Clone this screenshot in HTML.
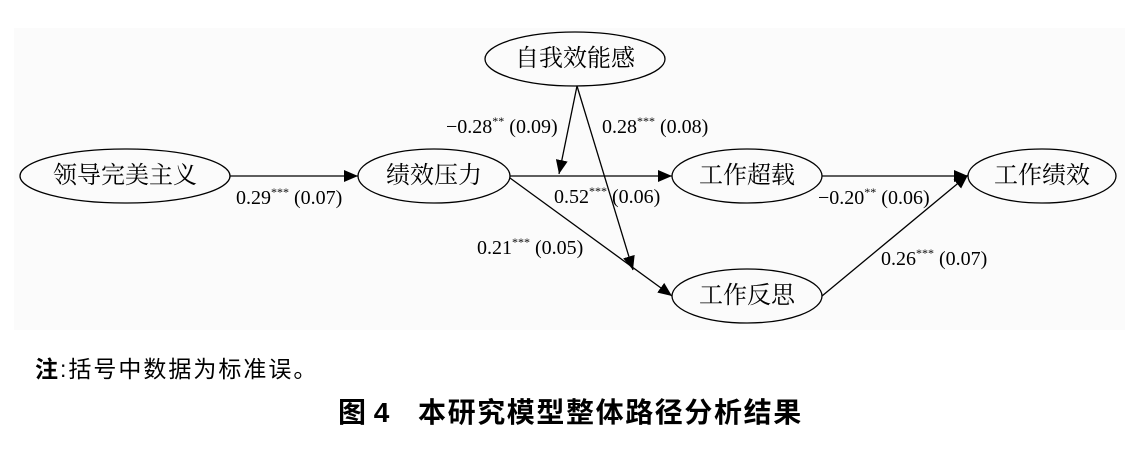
<!DOCTYPE html>
<html><head><meta charset="utf-8"><style>
html,body{margin:0;padding:0;background:#fff;width:1125px;height:454px;overflow:hidden}
svg text{font-family:"Liberation Serif","Noto Serif CJK SC",serif}
.n{font-family:"Liberation Sans","Noto Sans CJK SC",sans-serif;font-size:24px}
.l{font-size:20px}
</style></head><body>
<svg width="1125" height="454" viewBox="0 0 1125 454" xmlns="http://www.w3.org/2000/svg">
<defs><marker id="a" viewBox="0 0 14 12" refX="14" refY="6" markerWidth="14" markerHeight="12" markerUnits="userSpaceOnUse" orient="auto"><path d="M0,0 L14,6 L0,12 z" fill="#000"/></marker></defs>
<rect x="14" y="28" width="1111" height="302" fill="#fbfbfb"/>
<g fill="none" stroke="#000" stroke-width="1.3">
<ellipse cx="125" cy="176" rx="105" ry="27"/>
<ellipse cx="434" cy="176" rx="76" ry="27"/>
<ellipse cx="575" cy="59" rx="90" ry="27"/>
<ellipse cx="747" cy="176" rx="75" ry="27"/>
<ellipse cx="747" cy="296" rx="75" ry="27"/>
<ellipse cx="1042" cy="176" rx="74" ry="27"/>
<line x1="230" y1="176" x2="358" y2="176" marker-end="url(#a)"/>
<line x1="510" y1="176" x2="672" y2="176" marker-end="url(#a)"/>
<line x1="822" y1="176" x2="968" y2="176" marker-end="url(#a)"/>
<line x1="510" y1="178" x2="672" y2="296" marker-end="url(#a)"/>
<line x1="822" y1="296" x2="968" y2="175" marker-end="url(#a)"/>
<line x1="577" y1="86" x2="559" y2="174" marker-end="url(#a)"/>
<line x1="577" y1="86" x2="633" y2="270" marker-end="url(#a)"/>
</g>
<g class="n" text-anchor="middle" dominant-baseline="central" fill="#000">
<text x="125" y="176">领导完美主义</text>
<text x="434" y="176">绩效压力</text>
<text x="575" y="59">自我效能感</text>
<text x="747" y="176">工作超载</text>
<text x="747" y="296">工作反思</text>
<text x="1042" y="176">工作绩效</text>
</g>
<g class="l" fill="#000">
<text x="236" y="204">0.29<tspan font-size="12" dy="-8">***</tspan><tspan dy="8"> (0.07)</tspan></text>
<text x="446" y="133">−0.28<tspan font-size="12" dy="-8">**</tspan><tspan dy="8"> (0.09)</tspan></text>
<text x="602" y="133">0.28<tspan font-size="12" dy="-8">***</tspan><tspan dy="8"> (0.08)</tspan></text>
<text x="554" y="203">0.52<tspan font-size="12" dy="-8">***</tspan><tspan dy="8"> (0.06)</tspan></text>
<text x="818" y="204">−0.20<tspan font-size="12" dy="-8">**</tspan><tspan dy="8"> (0.06)</tspan></text>
<text x="477" y="254">0.21<tspan font-size="12" dy="-8">***</tspan><tspan dy="8"> (0.05)</tspan></text>
<text x="881" y="265">0.26<tspan font-size="12" dy="-8">***</tspan><tspan dy="8"> (0.07)</tspan></text>
</g>
<text x="35" y="377" font-size="23" letter-spacing="2" style="font-family:'Liberation Sans','Noto Sans CJK SC',sans-serif"><tspan font-weight="bold">注</tspan>:括号中数据为标准误。</text>
<text x="338" y="422" font-size="28" font-weight="bold" style="font-family:'Liberation Sans','Noto Sans CJK SC',sans-serif">图 4</text>
<text x="418" y="422" font-size="28" font-weight="bold" letter-spacing="1.6" style="font-family:'Liberation Sans','Noto Sans CJK SC',sans-serif">本研究模型整体路径分析结果</text>
</svg>
</body></html>
